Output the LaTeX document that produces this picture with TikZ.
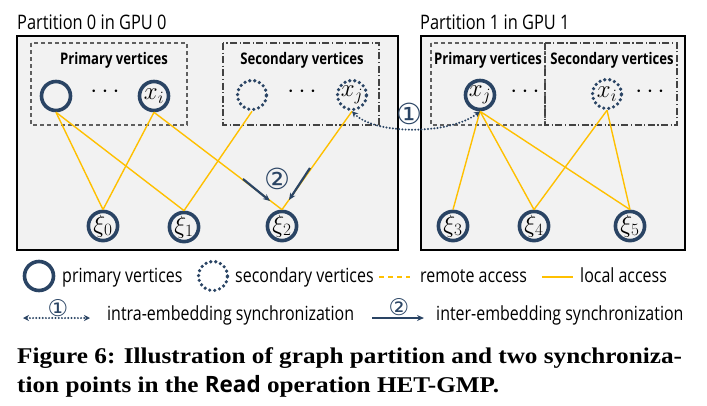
\documentclass[tikz,border=0pt]{standalone}
\usepackage{fontspec}
\setmainfont{Open Sans}[FakeStretch=0.82]
\newfontfamily\capfont{Liberation Serif}[FakeStretch=1.12]
\newfontfamily\readfont{Open Sans}
\newfontfamily\circfont{DejaVu Sans}
\usetikzlibrary{arrows.meta}

\begin{document}
\begin{tikzpicture}[x=1pt, y=-1pt, >=Stealth]

	\def\vsize{29pt}
	\def\gap{5pt}

	% Colours
	\definecolor{vertexcolor}{RGB}{42,68,100}
	\definecolor{accesscolor}{RGB}{255,192,0}
	\definecolor{gpucolor}{RGB}{242,242,242}
	\definecolor{boxcolor}{RGB}{95,95,95}

	% Styles
	\tikzstyle{gpubox}=[draw=black, fill=gpucolor, line width=1.2pt]
	\tikzstyle{primbox}=[draw=boxcolor, line width=1.1pt, dash pattern=on 4pt off 3pt]
	\tikzstyle{secbox}=[draw=boxcolor!70!black, line width=1.1pt, dash pattern=on 7pt off 2.5pt on 1.2pt off 2.5pt]
	\tikzstyle{boxlabel}=[anchor=base, font=\bfseries\fontsize{16}{16}\selectfont]
	\tikzstyle{prim}=[circle, draw=vertexcolor, line width=3.6pt, minimum size=\vsize, inner sep=0pt, font=\fontsize{26}{26}\selectfont]
	\tikzstyle{secd}=[prim, line width=3.6pt, dash pattern=on 0pt off \gap, line cap=round]
	\tikzstyle{vdots}=[font=\fontsize{24}{24}\selectfont]
	\tikzstyle{localline}=[draw=accesscolor, line width=1.4pt]
	\tikzstyle{remoteline}=[localline, line width=1.6pt, dash pattern=on 5pt off 4pt]
	\tikzstyle{intrasync}=[draw=vertexcolor, line width=2.2pt, dash pattern=on 0pt off 3.2pt, line cap=round, {Stealth[length=6pt,width=6pt]}-{Stealth[length=6pt,width=6pt]}]
	\tikzstyle{intersync}=[draw=vertexcolor, line width=2.2pt, -{Stealth[length=7pt,width=6pt]}]
	\tikzstyle{syncmark}=[text=vertexcolor, inner sep=0pt, font=\circfont\fontsize{29}{29}\selectfont]
	\tikzstyle{legendtext}=[anchor=base west, inner sep=0pt, font=\fontsize{19.5}{19.5}\selectfont]

	\useasboundingbox (0,0) rectangle (707,405);

	% Partitions
	\node[anchor=base west, inner sep=0pt, font=\fontsize{20}{20}\selectfont] (title0) at (17,29) {Partition 0 in GPU 0};
	\node[anchor=base west, inner sep=0pt, font=\fontsize{20}{20}\selectfont] (title1) at (420,29) {Partition 1 in GPU 1};
	\draw[gpubox] (17,36) rectangle (398,250);
	\draw[gpubox] (421,36) rectangle (685,250);
	\draw[primbox] (31,43) rectangle (187,125);
	\draw[secbox] (223,43) rectangle (379,125);
	\draw[primbox] (431,43) rectangle (545,125);
	\draw[secbox] (545,43) rectangle (677,125);
	\node[boxlabel] (lab0p) at (114,64) {Primary vertices};
	\node[boxlabel] (lab0s) at (302,64) {Secondary vertices};
	\node[boxlabel] (lab1p) at (488,64) {Primary vertices};
	\node[boxlabel] (lab1s) at (612,64) {Secondary vertices};

	% Vertices
	\node[prim] (pa) at (56,96) {};
	\node[vdots] (d0p) at (105,92) {$\cdots$};
	\node[prim] (pxi) at (154,96) {$x_i$};
	\node[secd] (sa) at (252,95) {};
	\node[vdots] (d0s) at (302,92) {$\cdots$};
	\node[secd] (sxj) at (352,95) {$x_j$};
	\node[prim] (qxj) at (480,95) {$x_j$};
	\node[vdots] (d1p) at (525,92) {$\cdots$};
	\node[secd] (qxi) at (607,94) {$x_i$};
	\node[vdots] (d1s) at (650,92) {$\cdots$};

	% Embeddings
	\node[prim] (z0) at (103,226) {$\xi_0$};
	\node[prim] (z1) at (184,227) {$\xi_1$};
	\node[prim] (z2) at (282,226) {$\xi_2$};
	\node[prim] (z3) at (453,226) {$\xi_3$};
	\node[prim] (z4) at (534,226) {$\xi_4$};
	\node[prim] (z5) at (630,226) {$\xi_5$};

	% Local access
	\draw[localline] (pa.south) -- (z0.north);
	\draw[localline] (pa.south) -- (z1.north);
	\draw[localline] (pxi.south) -- (z0.north);
	\draw[localline] (pxi.south) -- (z2.north);
	\draw[localline] (sa.south) -- (z1.north);
	\draw[localline] (sxj.south) -- (z2.north);
	\draw[localline] (qxj.south) -- (z3.north);
	\draw[localline] (qxj.south) -- (z4.north);
	\draw[localline] (qxj.south) -- (z5.north);
	\draw[localline] (qxi.south) -- (z4.north);
	\draw[localline] (qxi.south) -- (z5.north);

	% Synchronization points
	\draw[intrasync] (sxj.south) .. controls (375,135) and (450,135) .. (qxj.south);
	\node[syncmark] (one) at (409,114) {①};
	\coordinate (s2a) at (243,179);
	\coordinate (e2a) at (270,201);
	\coordinate (s2b) at (310,168);
	\coordinate (e2b) at (289,200);
	\draw[intersync] (s2a) -- (e2a);
	\draw[intersync] (s2b) -- (e2b);
	\node[syncmark] (two) at (277,179) {②};

	% Legend
	\node[prim] (legp) at (39,276) {};
	\node[legendtext] (legpt) at (62,282) {primary vertices};
	\node[secd] (legs) at (213,276) {};
	\node[legendtext] (legst) at (235,282) {secondary vertices};
	\coordinate (lr1) at (379,277);
	\coordinate (lr2) at (410,277);
	\draw[remoteline] (lr1) -- (lr2);
	\node[legendtext] (legrt) at (420,282) {remote access};
	\coordinate (ll1) at (542,277);
	\coordinate (ll2) at (573,277);
	\draw[localline] (ll1) -- (ll2);
	\node[legendtext] (leglt) at (580,282) {local access};

	\coordinate (la1) at (23,318);
	\coordinate (la2) at (90,318);
	\draw[intrasync] (la1) -- (la2);
	\node[syncmark, font=\circfont\fontsize{23}{23}\selectfont] (legone) at (58,308) {①};
	\node[legendtext] (legat) at (107,320) {intra-embedding synchronization};
	\coordinate (lb1) at (372,318);
	\coordinate (lb2) at (424,318);
	\draw[intersync] (lb1) -- (lb2);
	\node[syncmark, font=\circfont\fontsize{23}{23}\selectfont] (legtwo) at (399,307) {②};
	\node[legendtext] (legbt) at (436,320) {inter-embedding synchronization};

	% Caption
	\node[anchor=base west, inner sep=0pt, font=\capfont\bfseries\fontsize{22.5}{22.5}\selectfont] (cap1) at (17,363) {Figure 6: Illustration of graph partition and two synchroniza-};
	\node[anchor=base west, inner sep=0pt, font=\capfont\bfseries\fontsize{22.5}{22.5}\selectfont] (cap2) at (17,392) {tion points in the {\readfont\bfseries Read} operation HET-GMP.};

\end{tikzpicture}
\end{document}
